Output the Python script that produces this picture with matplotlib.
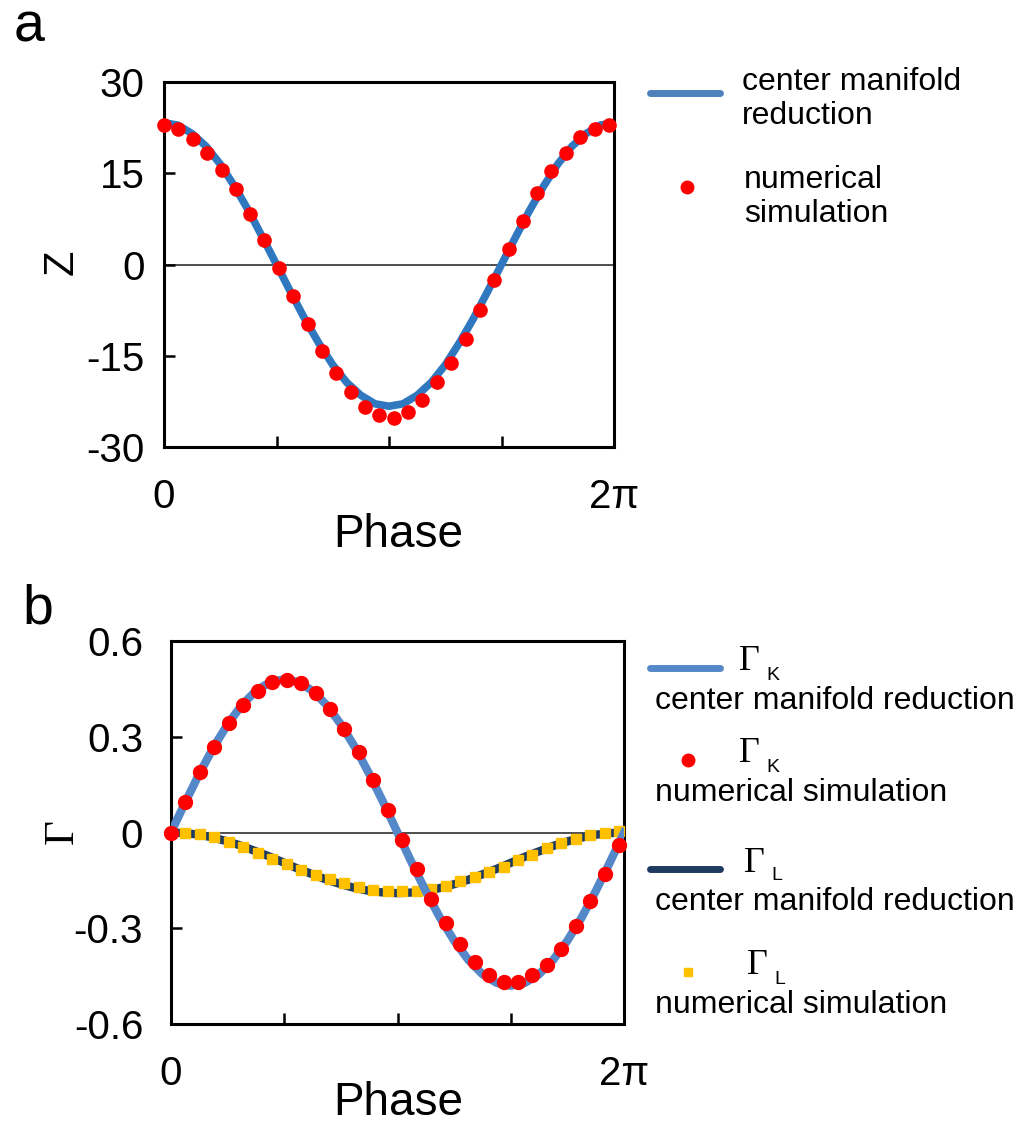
import numpy as np
import matplotlib.pyplot as plt
from matplotlib.lines import Line2D

plt.rcParams['font.family'] = ['Liberation Sans', 'DejaVu Sans']

# phase positions (fraction of a full period 2*pi)
phase_sim = [0.000, 0.032, 0.064, 0.096, 0.128, 0.159, 0.191, 0.223, 0.255, 0.287,
             0.319, 0.351, 0.383, 0.415, 0.447, 0.478, 0.510, 0.542, 0.574, 0.606,
             0.638, 0.670, 0.702, 0.734, 0.766, 0.797, 0.829, 0.861, 0.893, 0.925,
             0.957, 0.989]
phase_line = [0.0, 0.03125, 0.0625, 0.09375, 0.125, 0.15625, 0.1875, 0.21875, 0.25,
              0.28125, 0.3125, 0.34375, 0.375, 0.40625, 0.4375, 0.46875, 0.5,
              0.53125, 0.5625, 0.59375, 0.625, 0.65625, 0.6875, 0.71875, 0.75,
              0.78125, 0.8125, 0.84375, 0.875, 0.90625, 0.9375, 0.96875, 1.0]

# panel a : phase sensitivity Z
z_line = [23.3, 22.9, 21.5, 19.4, 16.5, 12.9, 8.9, 4.5, 0.0, -4.5, -8.9, -12.9, -16.5,
          -19.4, -21.5, -22.9, -23.3, -22.9, -21.5, -19.4, -16.5, -12.9, -8.9, -4.5,
          0.0, 4.5, 8.9, 12.9, 16.5, 19.4, 21.5, 22.9, 23.3]
z_sim = [22.9, 22.2, 20.6, 18.4, 15.6, 12.4, 8.3, 4.0, -0.6, -5.2, -9.8, -14.3, -17.8,
         -21.0, -23.5, -24.7, -25.3, -24.2, -22.3, -19.3, -16.2, -12.2, -7.4, -2.6,
         2.5, 7.2, 11.7, 15.3, 18.4, 21.0, 22.2, 23.0]

# panel b : phase coupling functions
gk_line = [0.0, 0.094, 0.184, 0.267, 0.339, 0.399, 0.444, 0.471, 0.480, 0.471, 0.444,
           0.399, 0.339, 0.267, 0.184, 0.094, 0.0, -0.094, -0.184, -0.267, -0.339,
           -0.399, -0.444, -0.471, -0.480, -0.471, -0.444, -0.399, -0.339, -0.267,
           -0.184, -0.094, 0.0]
gk_sim = [0.0, 0.096, 0.189, 0.267, 0.344, 0.401, 0.444, 0.471, 0.477, 0.467, 0.436,
          0.387, 0.324, 0.251, 0.164, 0.071, -0.025, -0.115, -0.207, -0.284, -0.349,
          -0.406, -0.445, -0.469, -0.469, -0.447, -0.414, -0.365, -0.294, -0.216,
          -0.131, -0.038]
gl_line = [0.0, -0.002, -0.007, -0.016, -0.028, -0.042, -0.059, -0.076, -0.095, -0.114,
           -0.131, -0.148, -0.162, -0.174, -0.183, -0.188, -0.190, -0.188, -0.183,
           -0.174, -0.162, -0.148, -0.131, -0.114, -0.095, -0.076, -0.059, -0.042,
           -0.028, -0.016, -0.007, -0.002, 0.0]
gl_sim = [0.0, -0.002, -0.004, -0.015, -0.031, -0.045, -0.063, -0.082, -0.098, -0.118,
          -0.134, -0.147, -0.158, -0.171, -0.180, -0.183, -0.183, -0.182, -0.176,
          -0.167, -0.153, -0.140, -0.124, -0.107, -0.087, -0.069, -0.049, -0.033,
          -0.019, -0.008, 0.0, 0.004]

x_sim = 2 * np.pi * np.array(phase_sim)
x_line = 2 * np.pi * np.array(phase_line)

W, H = 1016, 1131
fig = plt.figure(figsize=(W / 100, H / 100), dpi=100)


def fx(x):
    return x / W


def fy(y):
    return 1 - y / H


def style_axes(ax, ylim, yticks, yticklabels, ypad):
    ax.axhline(0, color='#404040', lw=1.3, zorder=1)
    ax.set_xlim(0, 2 * np.pi)
    ax.set_ylim(*ylim)
    ax.set_xticks([0, np.pi / 2, np.pi, 3 * np.pi / 2, 2 * np.pi])
    ax.set_xticklabels(['0', '', '', '', '2π'])
    ax.set_yticks(yticks)
    ax.set_yticklabels(yticklabels)
    ax.tick_params(axis='x', direction='in', length=8, width=1.8, labelsize=29, pad=22)
    ax.tick_params(axis='y', direction='in', length=8, width=1.8, labelsize=29, pad=ypad)
    for s in ax.spines.values():
        s.set_linewidth(2.2)


# ---- panel a ----
ax1 = fig.add_axes([fx(164), fy(447), fx(614 - 164), (447 - 82) / H])
ax1.plot(x_line, z_line, color='#2f78c0', lw=5.5, zorder=2)
ax1.plot(x_sim, z_sim, 'o', color='#ff0000', ms=9.5, zorder=3, clip_on=False)
style_axes(ax1, (-30, 30), [-30, -15, 0, 15, 30], ['-30', '-15', '0', '15', '30'], 14)

fig.text(fx(62), fy(262), 'Z', fontsize=30, rotation=90, ha='center', va='center')
fig.text(fx(398), fy(535), 'Phase', fontsize=33, ha='center', va='center')
fig.text(fx(14), fy(27), 'a', fontsize=40, ha='left', va='center')

# legend a
fig.add_artist(Line2D([fx(650), fx(720)], [fy(93), fy(93)], color='#4f81bd', lw=5,
                      solid_capstyle='round'))
fig.text(fx(742), fy(99), 'center manifold\nreduction', fontsize=23, ha='left',
         va='center', linespacing=1.15)
fig.add_artist(Line2D([fx(687)], [fy(187)], marker='o', color='#ff0000', ms=9, lw=0))
fig.text(fx(744), fy(197), 'numerical\nsimulation', fontsize=23, ha='left',
         va='center', linespacing=1.15)

# ---- panel b ----
ax2 = fig.add_axes([fx(171), fy(1024), fx(624 - 171), (1024 - 641) / H])
ax2.plot(x_line, gl_line, color='#1f3a60', lw=6, zorder=2)
ax2.plot(x_sim, gl_sim, 's', color='#ffc000', ms=6.5, zorder=3, clip_on=False)
ax2.plot(x_line, gk_line, color='#5588c8', lw=6, zorder=4)
ax2.plot(x_sim, gk_sim, 'o', color='#ff0000', ms=10, zorder=5, clip_on=False)
style_axes(ax2, (-0.6, 0.6), [-0.6, -0.3, 0, 0.3, 0.6],
           ['-0.6', '-0.3', '0', '0.3', '0.6'], 20)

fig.text(fx(62), fy(832), 'Γ', fontsize=31, rotation=90, ha='center', va='center',
         family='Liberation Serif')
fig.text(fx(398), fy(1103), 'Phase', fontsize=33, ha='center', va='center')
fig.text(fx(22), fy(610), 'b', fontsize=40, ha='left', va='center')

# legend b
entries = [
    ('line', '#5588c8', 668, 'K', 'center manifold reduction'),
    ('o', '#ff0000', 760, 'K', 'numerical simulation'),
    ('line', '#1f3a60', 869, 'L', 'center manifold reduction'),
    ('s', '#ffc000', 972, 'L', 'numerical simulation'),
]
for kind, color, y, sub, label in entries:
    if kind == 'line':
        fig.add_artist(Line2D([fx(650), fx(720)], [fy(y), fy(y)], color=color, lw=5,
                              solid_capstyle='round'))
        gx = 739 if sub == 'K' else 744
    else:
        fig.add_artist(Line2D([fx(688)], [fy(y)], marker=kind, color=color,
                              ms=9 if kind == 'o' else 6, lw=0))
        gx = 739 if sub == 'K' else 747
    fig.text(fx(gx), fy(y - 6), 'Γ', fontsize=26, family='Liberation Serif',
             ha='left', va='center')
    fig.text(fx(gx + 27), fy(y + 7), sub, fontsize=14, ha='left', va='center')
    fig.text(fx(655), fy(y + 33), label, fontsize=23, ha='left', va='center')

fig.savefig('out.png', dpi=100)
